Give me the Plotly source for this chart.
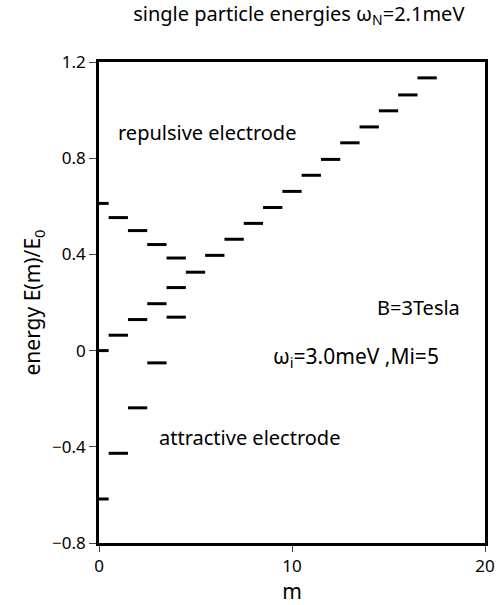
import plotly.graph_objects as go

# data: single particle energy levels E(m)/E0 per angular momentum m
m_upper = [0, 1, 2, 3, 4, 5, 6, 7, 8, 9, 10, 11, 12, 13, 14, 15, 16, 17]
e_upper = [0.612, 0.553, 0.499, 0.441, 0.385, 0.326, 0.396, 0.463, 0.529, 0.595,
           0.662, 0.729, 0.795, 0.864, 0.930, 0.997, 1.063, 1.134]
m_mid = [0, 1, 2, 3, 4]
e_mid = [0.0, 0.064, 0.129, 0.195, 0.262]
m_low = [0, 1, 2, 3, 4]
e_low = [-0.617, -0.427, -0.238, -0.051, 0.139]

x_ticks = [0, 10, 20]
y_ticks = [-0.8, -0.4, 0, 0.4, 0.8, 1.2]
y_tick_text = ["\u22120.8", "\u22120.4", "0", "0.4", "0.8", "1.2"]

FONT = "Noto Sans"


def level_segments(ms, es, half=0.5):
    xs, ys = [], []
    for m, e in zip(ms, es):
        xs += [m - half, m + half, None]
        ys += [e, e, None]
    return xs, ys


fig = go.Figure()
for ms, es in [(m_upper, e_upper), (m_mid, e_mid), (m_low, e_low)]:
    xs, ys = level_segments(ms, es)
    fig.add_trace(go.Scatter(x=xs, y=ys, mode="lines",
                             line=dict(color="black", width=3),
                             showlegend=False, hoverinfo="skip"))

fig.update_layout(
    width=503, height=605,
    margin=dict(l=99, r=8, t=62, b=62),
    paper_bgcolor="white", plot_bgcolor="white",
    font=dict(family=FONT, color="black", size=16),
    title=dict(text="single particle energies \u03c9<sub>N</sub>=2.1meV",
               x=0.594, xanchor="center", y=0.977, yanchor="middle",
               font=dict(size=20, family=FONT)),
    xaxis=dict(range=[0, 20], tickvals=x_ticks, ticks="outside", ticklen=6,
               tickwidth=1, showgrid=False, zeroline=False,
               showline=True, linewidth=2.5, linecolor="black", mirror=True,
               title=dict(text="m", font=dict(size=21), standoff=4),
               tickfont=dict(size=17)),
    yaxis=dict(range=[-0.8, 1.2], tickvals=y_ticks, ticktext=y_tick_text,
               ticks="outside", ticklen=7, tickwidth=1,
               showgrid=False, zeroline=False,
               showline=True, linewidth=2.5, linecolor="black", mirror=True,
               title=dict(text="energy E(m)/E<sub>0</sub>", font=dict(size=21), standoff=6),
               tickfont=dict(size=17)),
)

annos = [
    ("repulsive electrode", 0.9, 0.905, 20),
    ("attractive electrode", 3.0, -0.363, 20),
    ("B=3Tesla", 14.3, 0.178, 20),
    ("\u03c9<sub>i</sub>=3.0meV ,Mi=5", 8.9, -0.025, 21),
]
for text, x, y, s in annos:
    fig.add_annotation(text=text, x=x, y=y, xref="x", yref="y",
                       xanchor="left", yanchor="middle", showarrow=False,
                       font=dict(size=s, family=FONT, color="black"))

fig.write_html("out.html")
